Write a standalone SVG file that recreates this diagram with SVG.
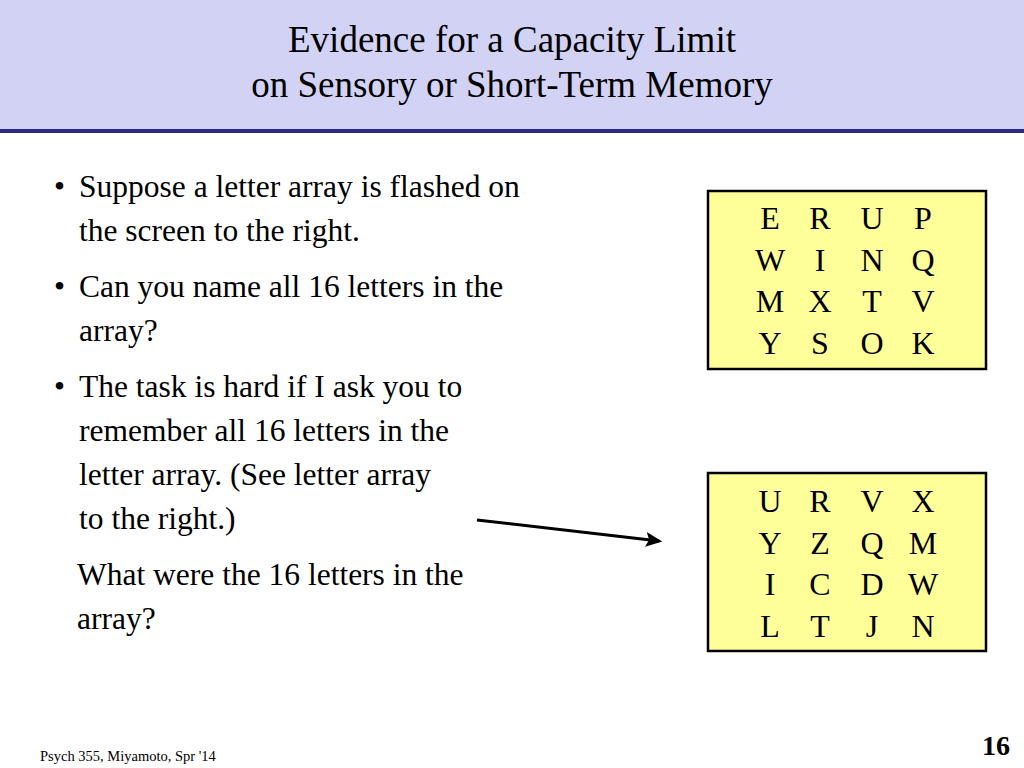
<svg xmlns="http://www.w3.org/2000/svg" width="1024" height="768" viewBox="0 0 1024 768">
<defs>
<style>
.t{font-family:"Liberation Serif","Times New Roman",serif;fill:#000}
.title{font-size:37px;text-anchor:middle}
.body{font-size:31.5px}
.let{font-size:32px;text-anchor:middle}
.box{fill:#FFFF99;stroke:#000;stroke-width:2.5}
</style>
<marker id="ah" viewBox="0 0 10 10" refX="8" refY="5" markerWidth="5.5" markerHeight="5.5" orient="auto" markerUnits="strokeWidth">
<path d="M0,0.5 L10,5 L0,9.5 L2,5 Z" fill="#000"/>
</marker>
</defs>
<rect width="1024" height="768" fill="#fff"/>
<g id="titlebar">
<rect x="0" y="0" width="1024" height="130" fill="#D2D2F4"/>
<rect x="0" y="129" width="1024" height="4" fill="#2A2A86"/>
<text class="t title" x="512" y="52">Evidence for a Capacity Limit</text>
<text class="t title" x="512" y="97">on Sensory or Short-Term Memory</text>
</g>
<g id="bullets">
<text class="t body" x="54" y="197">•</text>
<text class="t body" x="79" y="197">Suppose a letter array is flashed on</text>
<text class="t body" x="79" y="241">the screen to the right.</text>
<text class="t body" x="54" y="297">•</text>
<text class="t body" x="79" y="297">Can you name all 16 letters in the</text>
<text class="t body" x="79" y="341">array?</text>
<text class="t body" x="54" y="397">•</text>
<text class="t body" x="79" y="397">The task is hard if I ask you to</text>
<text class="t body" x="79" y="441">remember all 16 letters in the</text>
<text class="t body" x="79" y="485">letter array. (See letter array</text>
<text class="t body" x="79" y="529">to the right.)</text>
<text class="t body" x="77" y="585">What were the 16 letters in the</text>
<text class="t body" x="77" y="629">array?</text>
</g>
<g id="array1">
<rect class="box" x="708" y="191" width="278" height="178"/>
<text class="t let" x="770" y="229">E</text><text class="t let" x="820" y="229">R</text><text class="t let" x="872" y="229">U</text><text class="t let" x="923" y="229">P</text>
<text class="t let" x="770" y="271">W</text><text class="t let" x="820" y="271">I</text><text class="t let" x="872" y="271">N</text><text class="t let" x="923" y="271">Q</text>
<text class="t let" x="770" y="312">M</text><text class="t let" x="820" y="312">X</text><text class="t let" x="872" y="312">T</text><text class="t let" x="923" y="312">V</text>
<text class="t let" x="770" y="354">Y</text><text class="t let" x="820" y="354">S</text><text class="t let" x="872" y="354">O</text><text class="t let" x="923" y="354">K</text>
</g>
<g id="array2">
<rect class="box" x="708" y="473" width="278" height="178"/>
<text class="t let" x="770" y="512">U</text><text class="t let" x="820" y="512">R</text><text class="t let" x="872" y="512">V</text><text class="t let" x="923" y="512">X</text>
<text class="t let" x="770" y="554">Y</text><text class="t let" x="820" y="554">Z</text><text class="t let" x="872" y="554">Q</text><text class="t let" x="923" y="554">M</text>
<text class="t let" x="770" y="595">I</text><text class="t let" x="820" y="595">C</text><text class="t let" x="872" y="595">D</text><text class="t let" x="923" y="595">W</text>
<text class="t let" x="770" y="637">L</text><text class="t let" x="820" y="637">T</text><text class="t let" x="872" y="637">J</text><text class="t let" x="923" y="637">N</text>
</g>
<g id="connectors">
<line x1="477" y1="520" x2="659" y2="541" stroke="#000" stroke-width="3" marker-end="url(#ah)"/>
</g>
<g id="footer">
<text class="t" x="40" y="761" font-size="14.5">Psych 355, Miyamoto, Spr '14</text>
<text class="t" x="1010" y="755" font-size="28" font-weight="bold" text-anchor="end">16</text>
</g>
</svg>
